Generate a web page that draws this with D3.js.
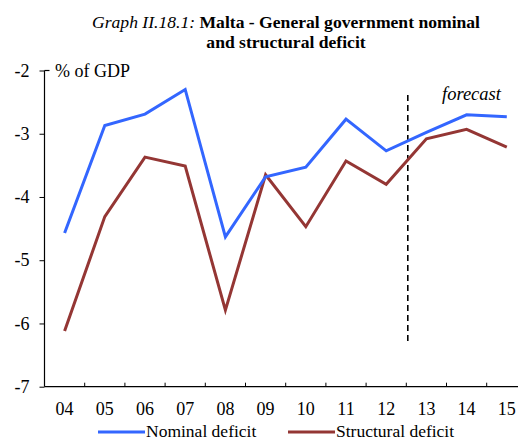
<!DOCTYPE html>
<html><head><meta charset="utf-8">
<script src="https://cdn.jsdelivr.net/npm/d3@7"></script>
<style>body{margin:0;background:#fff}svg{display:block}</style>
</head><body><svg id="c" width="518" height="441"></svg>
<script>
const categories = ["04","05","06","07","08","09","10","11","12","13","14","15"];
const nominal    = [-4.57,-2.87,-2.69,-2.30,-4.63,-3.68,-3.53,-2.77,-3.27,-2.98,-2.70,-2.73];
const structural = [-6.12,-4.31,-3.37,-3.51,-5.79,-3.65,-4.47,-3.43,-3.80,-3.08,-2.93,-3.21];
const yTicks = [-2,-3,-4,-5,-6,-7];
const forecastStart = "13";

(function(){
const svg = d3.select("#c");
const font = "'Liberation Serif','Times New Roman',serif";
const mLeft = 44.5, mTop = 70.5, mBottom = 386.7, step = 40.2;
const x = d3.scaleBand().domain(categories).range([mLeft, mLeft + step*categories.length]);
const y = d3.scaleLinear().domain([-7,-2]).range([mBottom, mTop]);

// title
const t = svg.append("text").attr("x",286).attr("y",28).attr("text-anchor","middle")
  .style("font-family",font).style("font-size","17.6px");
t.append("tspan").style("font-style","italic").text("Graph II.18.1: ");
t.append("tspan").style("font-weight","bold").text("Malta - General government nominal");
svg.append("text").attr("x",286).attr("y",48).attr("text-anchor","middle")
  .style("font-family",font).style("font-size","17.6px").style("font-weight","bold")
  .text("and structural deficit");

// y axis
const ya = svg.append("g").attr("transform",`translate(${mLeft},0)`)
  .call(d3.axisLeft(y).tickValues(yTicks).tickSize(5).tickPadding(10).tickFormat(d=>String(d)));
ya.select(".domain").remove();
ya.selectAll("line").attr("stroke","#000");
ya.selectAll("text").style("font-family",font).style("font-size","18px").attr("fill","#000");
svg.append("line").attr("x1",mLeft).attr("x2",mLeft).attr("y1",mTop).attr("y2",mBottom).attr("stroke","#000").attr("stroke-width",1.2);
svg.append("line").attr("x1",mLeft).attr("x2",mLeft+5).attr("y1",mTop).attr("y2",mTop).attr("stroke","#000").attr("stroke-width",1.2);

// x axis
svg.append("line").attr("x1",mLeft).attr("x2",518).attr("y1",mBottom).attr("y2",mBottom).attr("stroke","#000").attr("stroke-width",1.2);
svg.append("g").selectAll("line").data(categories.slice(1)).join("line")
  .attr("x1",d=>x(d)).attr("x2",d=>x(d)).attr("y1",mBottom).attr("y2",mBottom-4).attr("stroke","#000");
svg.append("g").selectAll("text").data(categories).join("text")
  .attr("x",d=>x(d)+x.bandwidth()/2).attr("y",mBottom+28).attr("text-anchor","middle")
  .style("font-family",font).style("font-size","18px").text(d=>d);

svg.append("text").attr("x",55).attr("y",77).style("font-family",font).style("font-size","18px").text("% of GDP");

// forecast
const fx = x(forecastStart)+1.5;
svg.append("line").attr("x1",fx).attr("x2",fx).attr("y1",95).attr("y2",342)
  .attr("stroke","#000").attr("stroke-width",1.6).attr("stroke-dasharray","6,4");
svg.append("text").attr("x",442).attr("y",100).style("font-family",font).style("font-size","18.5px")
  .style("font-style","italic").text("forecast");

// lines
const line = d3.line().x((d,i)=>x(categories[i])+x.bandwidth()/2).y(d=>y(d));
svg.append("path").datum(structural).attr("d",line).attr("fill","none").attr("stroke","#943634").attr("stroke-width",3);
svg.append("path").datum(nominal).attr("d",line).attr("fill","none").attr("stroke","#3366ff").attr("stroke-width",3);

// legend
const leg = [{n:"Nominal deficit",c:"#3366ff",x:98},{n:"Structural deficit",c:"#943634",x:288}];
leg.forEach(l=>{
  svg.append("line").attr("x1",l.x).attr("x2",l.x+47).attr("y1",432).attr("y2",432).attr("stroke",l.c).attr("stroke-width",3);
  svg.append("text").attr("x",l.x+48).attr("y",436.5).style("font-family",font).style("font-size","17.5px").text(l.n);
});
})();
</script></body></html>
